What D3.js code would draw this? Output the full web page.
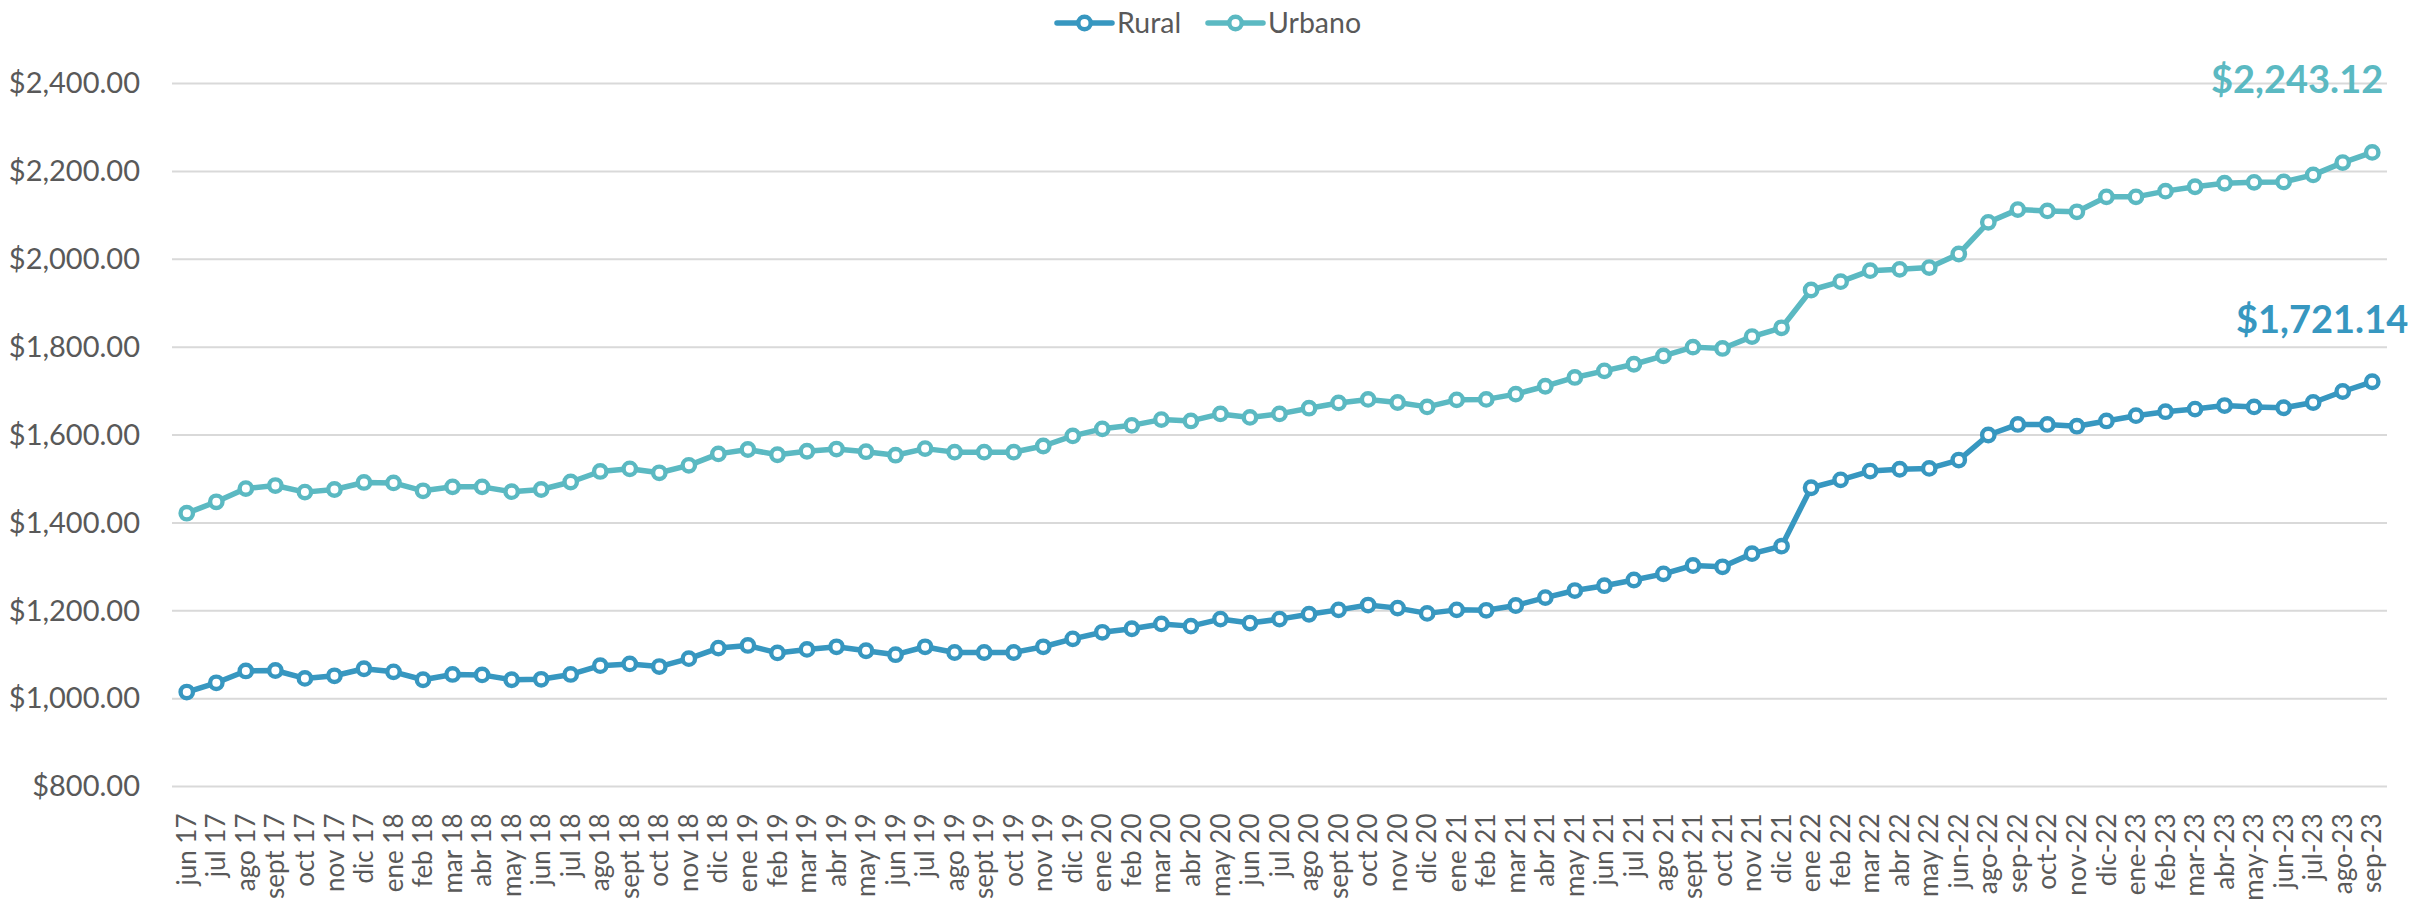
<!DOCTYPE html>
<html>
<head>
<meta charset="utf-8">
<script src="https://cdn.jsdelivr.net/npm/d3@7"></script>
<style>
  body { margin: 0; background: #fff; }
  text { font-family: Lato, 'Open Sans', sans-serif; fill: #595959; }
</style>
</head>
<body>
<div id="chart"></div>
<script>
// months on the x axis (jul-22 is missing in the source)
var months = [
  'jun 17', 'jul 17', 'ago 17', 'sept 17', 'oct 17', 'nov 17', 'dic 17',
  'ene 18', 'feb 18', 'mar 18', 'abr 18', 'may 18', 'jun 18', 'jul 18', 'ago 18', 'sept 18', 'oct 18', 'nov 18', 'dic 18',
  'ene 19', 'feb 19', 'mar 19', 'abr 19', 'may 19', 'jun 19', 'jul 19', 'ago 19', 'sept 19', 'oct 19', 'nov 19', 'dic 19',
  'ene 20', 'feb 20', 'mar 20', 'abr 20', 'may 20', 'jun 20', 'jul 20', 'ago 20', 'sept 20', 'oct 20', 'nov 20', 'dic 20',
  'ene 21', 'feb 21', 'mar 21', 'abr 21', 'may 21', 'jun 21', 'jul 21', 'ago 21', 'sept 21', 'oct 21', 'nov 21', 'dic 21',
  'ene 22', 'feb 22', 'mar 22', 'abr 22', 'may 22', 'jun-22', 'ago-22', 'sep-22', 'oct-22', 'nov-22', 'dic-22',
  'ene-23', 'feb-23', 'mar-23', 'abr-23', 'may-23', 'jun-23', 'jul-23', 'ago-23', 'sep-23'
]

var rural = [
  1015, 1036, 1063, 1064, 1046, 1052, 1068,
  1061, 1043, 1055, 1054, 1043, 1044, 1055, 1075, 1079, 1073, 1091, 1115,
  1121, 1104, 1112, 1118, 1109, 1100, 1118, 1105, 1105, 1105, 1118, 1136,
  1151, 1159, 1170, 1165, 1181, 1172, 1181, 1192, 1202, 1213, 1206, 1194,
  1202, 1201, 1212, 1230, 1246, 1257, 1270, 1284, 1303, 1300, 1330, 1347,
  1480, 1498, 1518, 1522, 1524, 1543, 1600, 1624, 1624, 1620, 1632,
  1644, 1653, 1659, 1667, 1664, 1662, 1674, 1699, 1721.14
]

var urbano = [
  1422, 1448, 1478, 1485, 1470, 1476, 1492,
  1491, 1473, 1482, 1482, 1471, 1476, 1493, 1517, 1523, 1514, 1531, 1557,
  1567, 1555, 1563, 1568, 1562, 1554, 1569, 1561, 1561, 1561, 1575, 1598,
  1614, 1622, 1635, 1632, 1648, 1640, 1648, 1661, 1673, 1681, 1674, 1664,
  1680, 1681, 1693, 1711, 1731, 1746, 1761, 1780, 1800, 1797, 1824, 1844,
  1930, 1949, 1974, 1977, 1981, 2012, 2084, 2113, 2110, 2108, 2142,
  2142, 2155, 2165, 2173, 2175, 2176, 2192, 2220, 2243.12
]

var yTicks = [800, 1000, 1200, 1400, 1600, 1800, 2000, 2200, 2400]

var seriesNames = ['Rural', 'Urbano']
var seriesColors = ['#3797c0', '#5bb9c2']

;(function () {
  var margin = { top: 83.5, right: 28, bottom: 115.5, left: 172 }
  var fullWidth = 2415
  var fullHeight = 902
  var width = fullWidth - margin.left - margin.right
  var height = fullHeight - margin.top - margin.bottom

  var root = d3.select('#chart')
    .append('svg')
    .attr('width', fullWidth)
    .attr('height', fullHeight)

  var svg = root.append('g')
    .attr('transform', 'translate(' + margin.left + ',' + margin.top + ')')

  var xScale = d3.scaleBand()
    .domain(months)
    .range([0, width])

  var yScale = d3.scaleLinear()
    .domain([800, 2400])
    .range([height, 0])

  var fmt = d3.format('$,.2f')

  // gridlines
  svg.selectAll('.grid')
    .data(yTicks)
    .enter().append('line')
    .attr('class', 'grid')
    .attr('x1', 0)
    .attr('x2', width)
    .attr('y1', d => yScale(d))
    .attr('y2', d => yScale(d))
    .attr('stroke', '#d9d9d9')
    .attr('stroke-width', 2)

  // y axis
  var yAxis = d3.axisLeft(yScale)
    .tickValues(yTicks)
    .tickFormat(fmt)
    .tickSize(0)
    .tickPadding(32)
  var yg = svg.append('g')
    .attr('class', 'axis y-axis')
    .call(yAxis)
  yg.select('.domain').remove()
  yg.selectAll('text')
    .style('font-size', '29px')
    .attr('fill', '#595959')

  // x axis, labels rotated
  var xAxis = d3.axisBottom(xScale).tickSize(0).tickPadding(0)
  var xg = svg.append('g')
    .attr('class', 'axis x-axis')
    .attr('transform', 'translate(0,' + height + ')')
    .call(xAxis)
  xg.select('.domain').remove()
  xg.selectAll('text')
    .style('font-size', '26px')
    .attr('fill', '#595959')
    .attr('text-anchor', 'end')
    .attr('transform', 'translate(0,27) rotate(-90)')
    .attr('x', 0)
    .attr('y', 0)
    .attr('dy', '0.35em')

  var cx = d => xScale(d) + xScale.bandwidth() / 2

  var line = d3.line()
    .x((d, i) => cx(months[i]))
    .y(d => yScale(d))

  var allSeries = [rural, urbano]

  allSeries.forEach(function (values, s) {
    svg.append('path')
      .datum(values)
      .attr('fill', 'none')
      .attr('stroke', seriesColors[s])
      .attr('stroke-width', 5.5)
      .attr('stroke-linejoin', 'round')
      .attr('d', line)

    svg.selectAll('.pt' + s)
      .data(values)
      .enter().append('circle')
      .attr('class', 'pt' + s)
      .attr('cx', (d, i) => cx(months[i]))
      .attr('cy', d => yScale(d))
      .attr('r', 6.2)
      .attr('fill', '#fff')
      .attr('stroke', seriesColors[s])
      .attr('stroke-width', 4.4)
  })

  // end labels
  var last = months.length - 1
  var endOffsets = [[36, -49], [11, -59]]
  allSeries.forEach(function (values, s) {
    svg.append('text')
      .attr('x', cx(months[last]) + endOffsets[s][0])
      .attr('y', yScale(values[last]) + endOffsets[s][1])
      .attr('text-anchor', 'end')
      .style('font-size', '38px')
      .style('font-weight', 'bold')
      .style('fill', seriesColors[s])
      .text(fmt(values[last]))
  })

  // legend
  var legendX = [1057, 1208]
  var legend = root.append('g').attr('class', 'legend')
  seriesNames.forEach(function (name, s) {
    var g = legend.append('g').attr('transform', 'translate(' + legendX[s] + ',23)')
    g.append('line')
      .attr('x1', 0).attr('x2', 55)
      .attr('stroke', seriesColors[s])
      .attr('stroke-width', 5.5)
      .attr('stroke-linecap', 'round')
    g.append('circle')
      .attr('cx', 27.5)
      .attr('r', 6.2)
      .attr('fill', '#fff')
      .attr('stroke', seriesColors[s])
      .attr('stroke-width', 4.4)
    g.append('text')
      .attr('x', 60)
      .attr('dy', '0.35em')
      .style('font-size', '28.5px')
      .text(name)
  })
})()
</script>
</body>
</html>
